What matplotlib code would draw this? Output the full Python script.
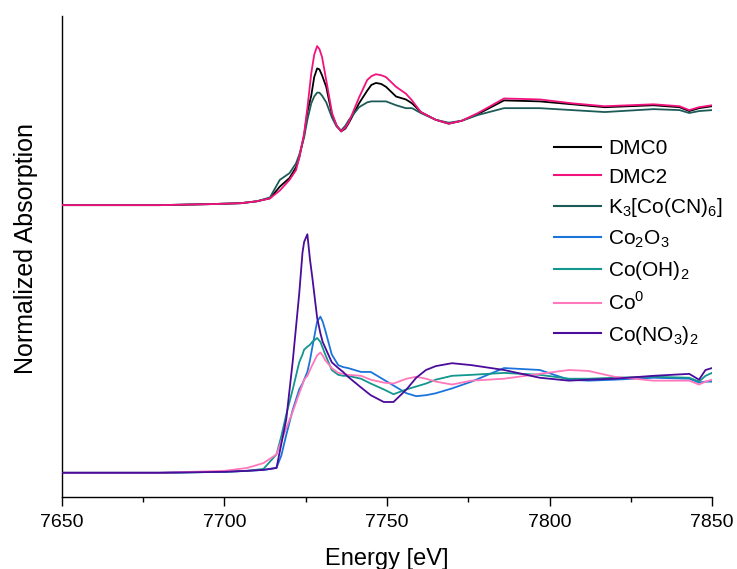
import matplotlib
matplotlib.use("Agg")
import matplotlib.pyplot as plt
from matplotlib.ticker import MultipleLocator

# Energy grids (eV)
energy_top = [7650, 7680, 7695, 7705, 7710, 7714, 7717, 7720, 7722, 7723,
              7724.5, 7725.5, 7726.7, 7727.6, 7728.5, 7729.2, 7730, 7731.3, 7733.1, 7734.5,
              7735.9, 7737.2, 7738.3, 7741.4, 7743.9, 7745.2, 7746.6, 7748.2, 7749.7, 7752.8,
              7755.8, 7757.7, 7760.4, 7765, 7769, 7773, 7778, 7786, 7797, 7807,
              7817, 7832, 7840, 7843, 7846, 7850]

energy_ref = [7650, 7680, 7700, 7707, 7712, 7716, 7717.5, 7719, 7721, 7723,
              7724, 7724.5, 7725.5, 7726.3, 7727, 7728.5, 7729.5, 7730.2, 7731, 7733,
              7735, 7736.5, 7738, 7742, 7745, 7749, 7752, 7756, 7759, 7762,
              7765, 7770, 7776, 7786, 7797, 7806, 7812, 7820, 7832, 7843,
              7846, 7848, 7850]

# Normalized absorption, samples
dmc0 = [0.00, 0.00, 0.01, 0.02, 0.04, 0.07, 0.19, 0.28, 0.39, 0.49,
        0.72, 0.96, 1.13, 1.32, 1.41, 1.40, 1.34, 1.22, 0.93, 0.82,
        0.76, 0.79, 0.85, 1.05, 1.18, 1.24, 1.26, 1.25, 1.22, 1.12,
        1.09, 1.05, 0.96, 0.88, 0.84, 0.87, 0.94, 1.08, 1.07, 1.04,
        1.01, 1.03, 1.01, 0.97, 1.00, 1.02]
dmc2 = [0.00, 0.00, 0.01, 0.02, 0.04, 0.07, 0.15, 0.26, 0.36, 0.49,
        0.74, 1.00, 1.36, 1.55, 1.64, 1.61, 1.53, 1.29, 0.95, 0.82,
        0.76, 0.80, 0.86, 1.11, 1.29, 1.33, 1.35, 1.34, 1.32, 1.22,
        1.15, 1.08, 0.96, 0.88, 0.84, 0.87, 0.95, 1.10, 1.09, 1.05,
        1.02, 1.04, 1.02, 0.98, 1.01, 1.03]
k3co = [0.00, 0.00, 0.01, 0.02, 0.04, 0.08, 0.26, 0.33, 0.43, 0.52,
        0.70, 0.88, 1.05, 1.12, 1.16, 1.16, 1.13, 1.06, 0.90, 0.81,
        0.77, 0.82, 0.88, 1.01, 1.06, 1.07, 1.07, 1.07, 1.07, 1.03,
        1.00, 1.00, 0.95, 0.88, 0.85, 0.87, 0.93, 1.00, 1.00, 0.98,
        0.96, 0.99, 0.98, 0.95, 0.97, 0.98]

# Normalized absorption, references
co2o3 = [0.00, 0.00, 0.01, 0.02, 0.03, 0.05, 0.18, 0.39, 0.65, 0.86,
         0.92, 0.96, 1.04, 1.16, 1.29, 1.56, 1.61, 1.56, 1.47, 1.22,
         1.11, 1.09, 1.08, 1.04, 1.04, 0.96, 0.90, 0.82, 0.79, 0.80,
         0.82, 0.87, 0.94, 1.08, 1.06, 0.96, 0.95, 0.96, 0.98, 0.97,
         0.93, 0.94, 0.94]
cooh2 = [0.00, 0.00, 0.01, 0.02, 0.04, 0.19, 0.38, 0.60, 0.86, 1.14,
         1.22, 1.27, 1.30, 1.32, 1.35, 1.39, 1.35, 1.29, 1.22, 1.06,
         1.01, 1.00, 1.00, 0.97, 0.92, 0.86, 0.81, 0.86, 0.89, 0.92,
         0.96, 1.00, 1.01, 1.03, 1.01, 0.97, 0.97, 0.98, 0.99, 0.98,
         0.94, 1.00, 1.03]
co0 = [0.00, 0.00, 0.02, 0.05, 0.10, 0.19, 0.33, 0.46, 0.63, 0.82,
       0.91, 0.96, 1.00, 1.06, 1.11, 1.21, 1.24, 1.21, 1.16, 1.08,
       1.03, 1.02, 1.01, 1.00, 0.96, 0.93, 0.92, 0.97, 0.99, 0.97,
       0.94, 0.91, 0.95, 0.97, 1.02, 1.06, 1.05, 0.99, 0.95, 0.95,
       0.91, 0.94, 0.96]
conop = [0.00, 0.00, 0.01, 0.02, 0.03, 0.05, 0.30, 0.55, 1.15, 1.85,
         2.27, 2.38, 2.46, 2.20, 2.02, 1.60, 1.44, 1.35, 1.29, 1.14,
         1.08, 1.04, 0.99, 0.88, 0.80, 0.73, 0.73, 0.86, 0.98, 1.06,
         1.10, 1.13, 1.11, 1.06, 0.98, 0.95, 0.96, 0.97, 1.00, 1.02,
         0.96, 1.06, 1.08]

top_offset = 2.76

top_series = [
    ("DMC0", dmc0, "#000000", 2),
    ("DMC2", dmc2, "#f2127e", 4),
    ("K$_\\mathregular{3}$[Co(CN)$_\\mathregular{6}$]", k3co, "#1d5b58", 3),
]
ref_series = [
    ("Co$_\\mathregular{2}$O$_\\mathregular{3}$", co2o3, "#1a74dc", 2),
    ("Co(OH)$_\\mathregular{2}$", cooh2, "#12968e", 2),
    ("Co$^\\mathregular{0}$", co0, "#ff78bb", 2),
    ("Co(NO$_\\mathregular{3}$)$_\\mathregular{2}$", conop, "#4a0c9a", 3),
]


def main():
    plt.rcParams['font.family'] = ['Liberation Sans', 'DejaVu Sans']
    plt.rcParams['mathtext.fontset'] = 'custom'
    plt.rcParams['mathtext.rm'] = 'Liberation Sans'

    fig = plt.figure(figsize=(7.37, 5.69), dpi=100)
    ax = fig.add_axes([0.0841, 0.1265, 0.882, 0.8453])

    for label, vals, color, z in top_series:
        ax.plot(energy_top, [v + top_offset for v in vals], color=color,
                lw=1.3, label=label, zorder=z)
    for label, vals, color, z in ref_series:
        ax.plot(energy_ref, vals, color=color, lw=1.3, label=label, zorder=z)

    ax.set_xlim(7650, 7850)
    ax.set_ylim(-0.25, 4.71)
    ax.xaxis.set_major_locator(MultipleLocator(50))
    ax.xaxis.set_minor_locator(MultipleLocator(25))
    ax.set_yticks([])
    ax.tick_params(axis='x', which='major', length=6.5, width=1.0,
                   labelsize=14, pad=5.5)
    ax.tick_params(axis='x', which='minor', length=3.6, width=1.0)
    for side in ('top', 'right'):
        ax.spines[side].set_visible(False)
    for side in ('left', 'bottom'):
        ax.spines[side].set_linewidth(1.0)

    ax.set_xlabel("Energy [eV]", fontsize=17, labelpad=12.5)
    ax.set_ylabel("Normalized Absorption", fontsize=18)
    ax.yaxis.set_label_coords(-0.037, 0.517)

    leg = ax.legend(loc='upper left', bbox_to_anchor=(0.757, 0.744),
                    frameon=False, fontsize=15, borderpad=0, borderaxespad=0,
                    handlelength=2.26, handletextpad=0.34, labelspacing=0.45)
    for line in leg.get_lines():
        line.set_linewidth(1.5)

    fig.savefig("out.png", dpi=100)
    plt.close(fig)


if __name__ == "__main__":
    main()
